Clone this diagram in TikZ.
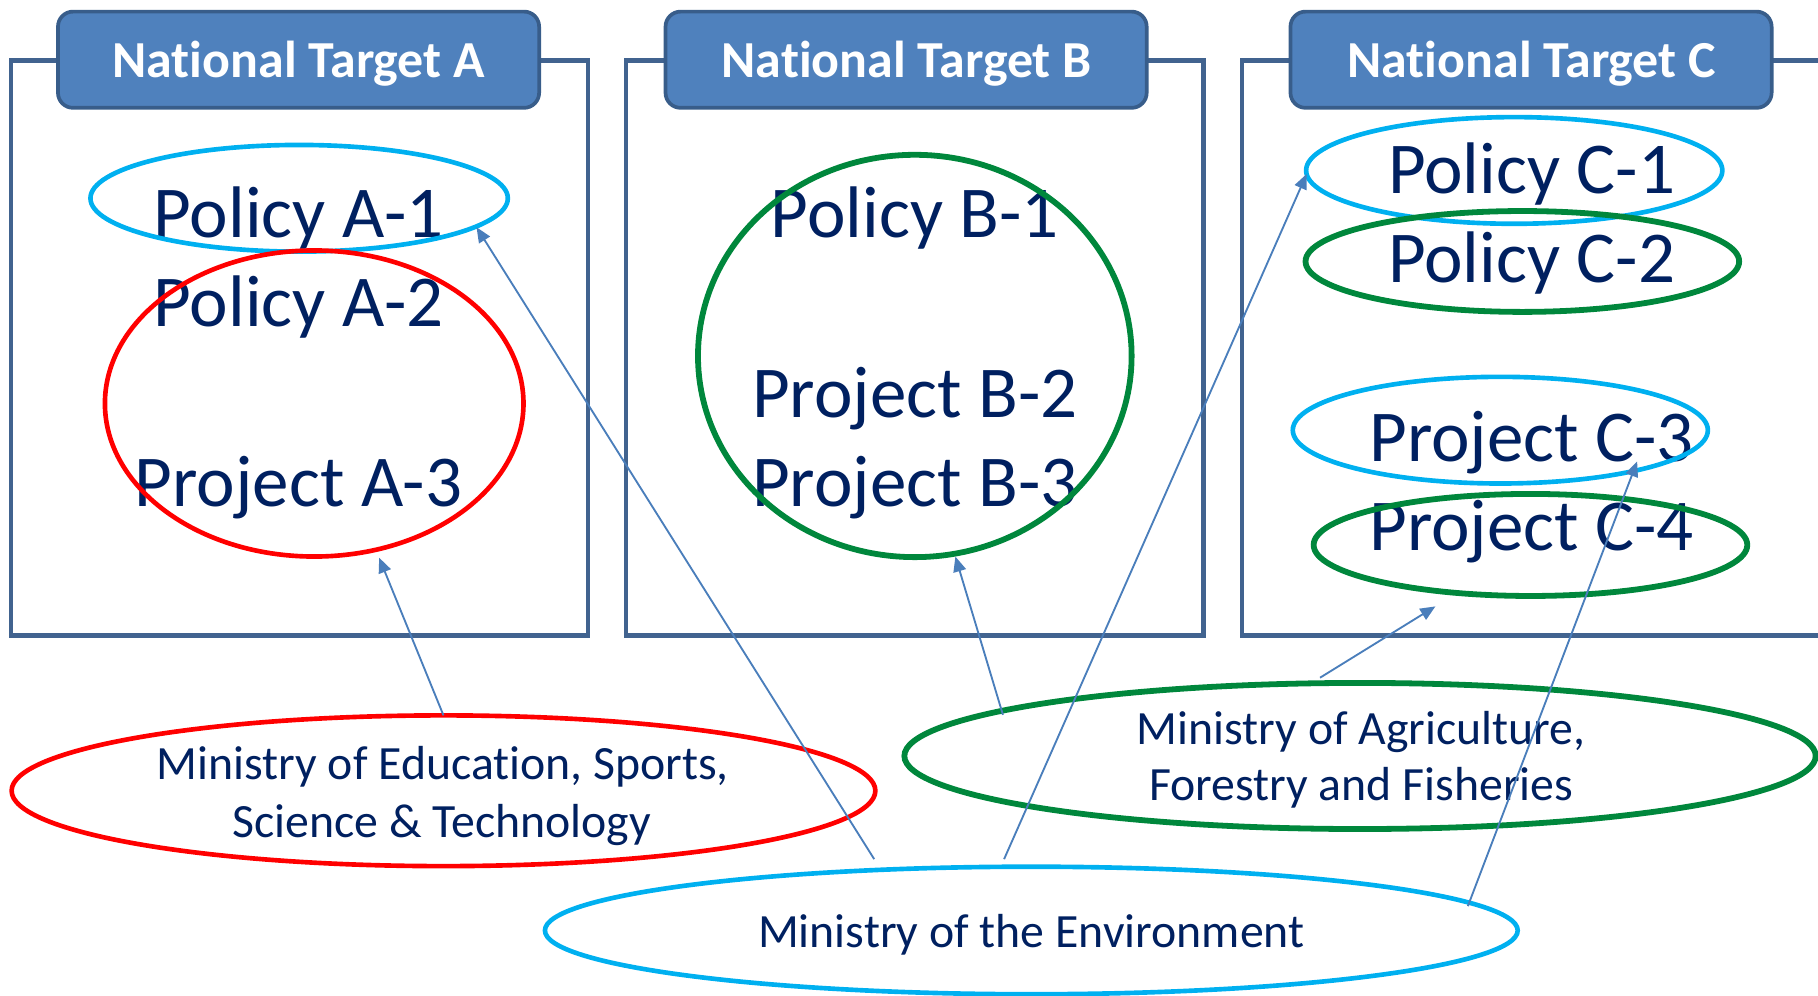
\documentclass[tikz,border=0pt]{standalone}
\usepackage{fontspec}
\setmainfont{Carlito}[Ligatures=CommonOff]
\usetikzlibrary{shapes.geometric,arrows.meta,calc}
\definecolor{navy}{HTML}{002060}
\definecolor{hdrfill}{HTML}{4F81BD}
\definecolor{hdrline}{HTML}{385D8A}
\definecolor{boxline}{HTML}{41638F}
\definecolor{skyb}{HTML}{00B0F0}
\definecolor{grn}{HTML}{00873C}
\definecolor{redc}{HTML}{FF0000}
\definecolor{arrc}{HTML}{4A7EBB}
\tikzset{
 frame/.style={draw=boxline, line width=1.9pt, inner sep=0, outer sep=0},
 header/.style={draw=hdrline, fill=hdrfill, line width=1.6pt, rounded corners=6.5pt, inner sep=0},
 hdrtext/.style={text=white, font=\fontsize{22.4pt}{27pt}\selectfont\bfseries, anchor=base, inner sep=0},
 big/.style={text=navy, font=\fontsize{31.5pt}{38pt}\selectfont, anchor=base, inner sep=0},
 mid/.style={text=navy, font=\fontsize{20.6pt}{25pt}\selectfont, anchor=base, inner sep=0},
 oval/.style={ellipse, inner sep=0, outer sep=0},
 bl/.style={oval, draw=skyb, line width=2pt},
 gr/.style={oval, draw=grn, line width=2.5pt},
 rd/.style={oval, draw=redc, line width=2pt},
 arr/.style={draw=arrc, line width=0.8pt, -{Triangle[length=6.5pt,width=5.5pt]}},
}
\begin{document}
\begin{tikzpicture}[x=0.5pt,y=-0.5pt]
\useasboundingbox (0,0) rectangle (1568,859);
% frames
\node[frame, minimum width=248.75pt, minimum height=248pt] (fa) at (258.25,300) {};
\node[frame, minimum width=249pt, minimum height=248pt] (fb) at (789,300) {};
\node[frame, minimum width=254.5pt, minimum height=248pt] (fc) at (1325.5,300) {};
% headers
\node[header, minimum width=207.5pt, minimum height=41.5pt] (ha) at (257.5,51.5) {};
\node[header, minimum width=207.5pt, minimum height=41.5pt] (hb) at (781.5,51.5) {};
\node[header, minimum width=207.5pt, minimum height=41.5pt] (hc) at (1320.5,51.5) {};
\node[hdrtext] (ta) at (257.5,67) {National Target A};
\node[hdrtext] (tb) at (782,67) {National Target B};
\node[hdrtext] (tc) at (1321,67) {National Target C};
% texts
\node[big] (pa1) at (257.5,205) {Policy A-1};
\node[big] (pa2) at (257.5,282) {Policy A-2};
\node[big] (pa3) at (257.5,437) {Project A-3};
\node[big] (pb1) at (789,205) {Policy B-1};
\node[big] (pb2) at (789,360) {Project B-2};
\node[big] (pb3) at (789,437) {Project B-3};
\node[big] (pc1) at (1321,167) {Policy C-1};
\node[big] (pc2) at (1321,244) {Policy C-2};
\node[big] (pc3) at (1321,398) {Project C-3};
\node[big] (pc4) at (1321,475) {Project C-4};
\node[mid] (m1a) at (382,672) {Ministry of Education, Sports,};
\node[mid] (m1b) at (381,722) {Science \& Technology};
\node[mid] (m2a) at (1174,642) {Ministry of Agriculture,};
\node[mid] (m2b) at (1174,690) {Forestry and Fisheries};
\node[mid] (m3) at (889.5,817) {Ministry of the Environment};
% ellipses
\node[bl, minimum width=180pt, minimum height=46pt] (a1) at (258,171) {};
\node[rd, minimum width=180.5pt, minimum height=132pt] (reda) at (271,348) {};
\node[gr, minimum width=187pt, minimum height=173.5pt] (bcirc) at (789,307) {};
\node[bl, minimum width=179.5pt, minimum height=46pt] (c1) at (1306,147) {};
\node[gr, minimum width=187pt, minimum height=43.5pt] (c2) at (1313,225.5) {};
\node[bl, minimum width=179pt, minimum height=46pt] (c3) at (1294,371) {};
\node[gr, minimum width=187pt, minimum height=44pt] (c4) at (1320,470) {};
\node[rd, minimum width=372.5pt, minimum height=65pt] (mext) at (382.5,682) {};
\node[gr, minimum width=393pt, minimum height=63pt] (maff) at (1173,652) {};
\node[bl, minimum width=419.5pt, minimum height=55pt] (moe) at (889.5,802.5) {};
\coordinate (ctip) at (1238,523);
% arrows
\draw[arr] (mext.north) -- ($(reda.center)+(56,133)$);
\draw[arr] ($(moe.center)+(-135.5,-61.5)$) -- ($(a1.center)+(153,25)$);
\draw[arr] ($(maff.center)+(-308,-35.5)$) -- ($(bcirc.center)+(35,173)$);
\draw[arr] ($(moe.center)+(-23.5,-61.5)$) -- ($(c1.center)+(-179,3)$);
\draw[arr] ($(maff.center)+(-34.5,-67.5)$) -- (ctip);
\draw[arr] ($(moe.center)+(376.5,-21)$) -- ($(c3.center)+(118,27)$);
\end{tikzpicture}
\end{document}
